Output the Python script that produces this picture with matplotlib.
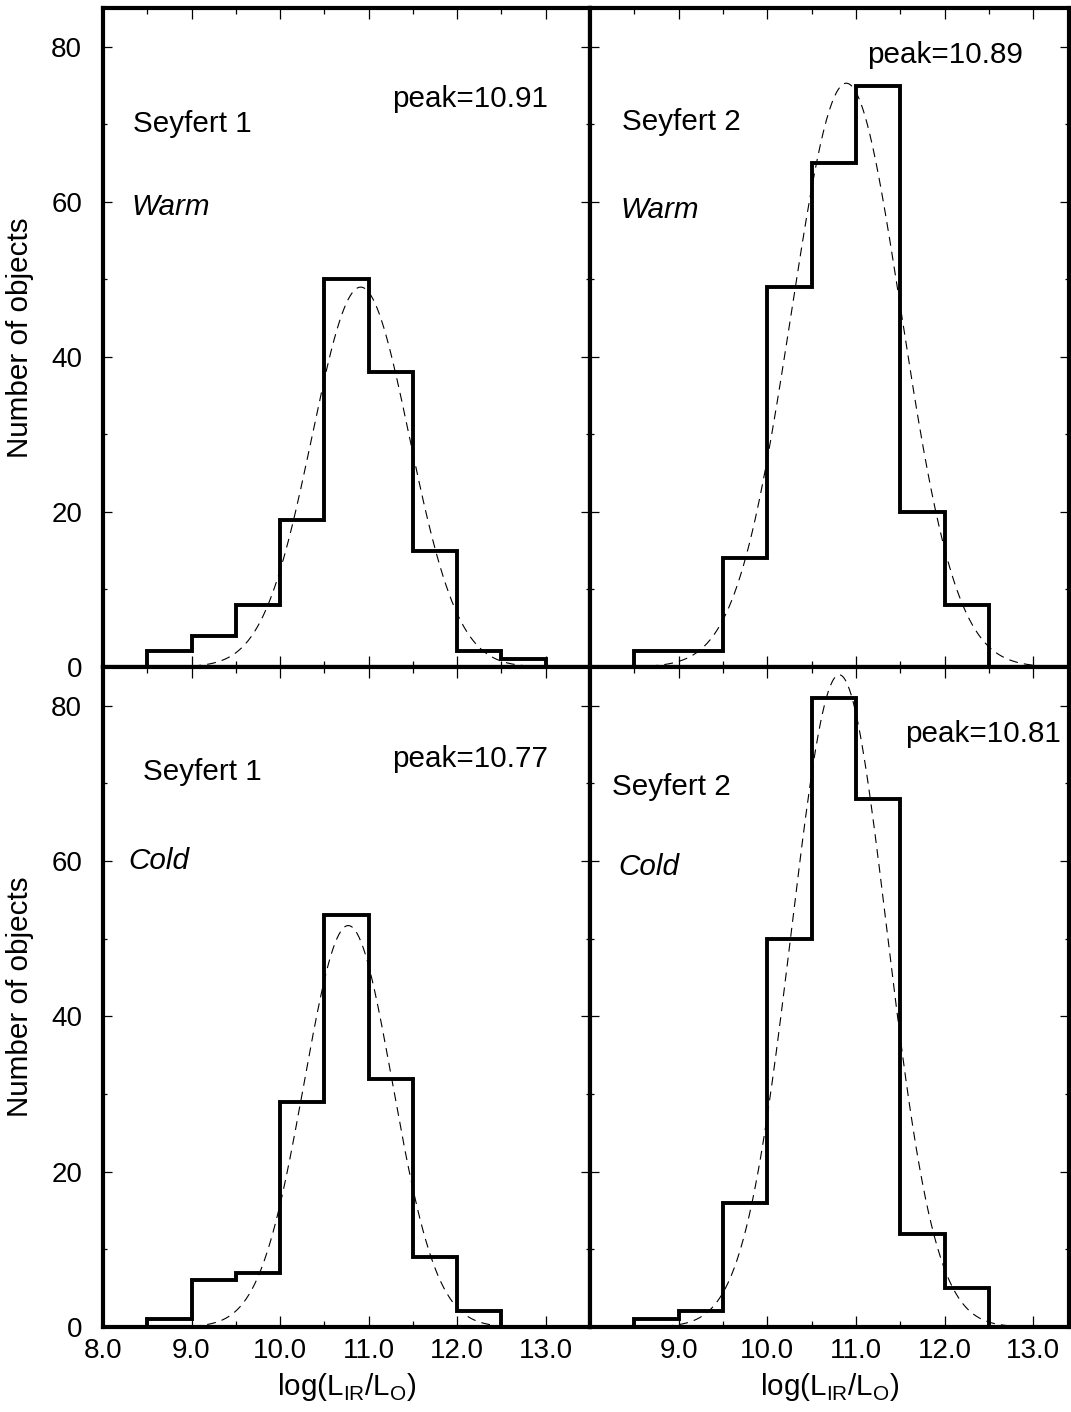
import numpy as np
import matplotlib
matplotlib.use("Agg")
import matplotlib.pyplot as plt
from matplotlib.ticker import MultipleLocator, FuncFormatter

plt.rcParams['font.family'] = ['Liberation Sans', 'DejaVu Sans']
plt.rcParams['mathtext.fontset'] = 'custom'
plt.rcParams['mathtext.rm'] = 'Liberation Sans'

# ---- data ----
bin_edges_sy1_warm = [8.5, 9.0, 9.5, 10.0, 10.5, 11.0, 11.5, 12.0, 12.5, 13.0]
counts_sy1_warm = [2, 4, 8, 19, 50, 38, 15, 2, 1]

bin_edges_sy2_warm = [8.5, 9.0, 9.5, 10.0, 10.5, 11.0, 11.5, 12.0, 12.5]
counts_sy2_warm = [2, 2, 14, 49, 65, 75, 20, 8]

bin_edges_sy1_cold = [8.5, 9.0, 9.5, 10.0, 10.5, 11.0, 11.5, 12.0, 12.5]
counts_sy1_cold = [1, 6, 7, 29, 53, 32, 9, 2]

bin_edges_sy2_cold = [8.5, 9.0, 9.5, 10.0, 10.5, 11.0, 11.5, 12.0, 12.5]
counts_sy2_cold = [1, 2, 16, 50, 81, 68, 12, 5]

# gaussian fit parameters (peak position, amplitude, width) per panel
gauss_peak = [10.91, 10.89, 10.77, 10.81]
gauss_amp = [49.0, 75.3, 51.7, 84.0]
gauss_sigma = [0.55, 0.62, 0.50, 0.54]

seyfert_labels = ["Seyfert 1", "Seyfert 2", "Seyfert 1", "Seyfert 2"]
temp_labels = ["Warm", "Warm", "Cold", "Cold"]
peak_labels = ["peak=10.91", "peak=10.89", "peak=10.77", "peak=10.81"]

ylabel_text = "Number of objects"
xlabel_text = r"log(L$_\mathregular{IR}$/L$_\mathregular{O}$)"

# ---- layout ----
W, H = 1071, 1412
fig = plt.figure(figsize=(W / 100, H / 100), dpi=100)
xl, xm, xr = 103 / W, 590 / W, 1069 / W
yt, ymid, yb = 1 - 8 / H, 1 - 667 / H, 1 - 1327 / H

ax_tl = fig.add_axes([xl, ymid, xm - xl, yt - ymid])
ax_tr = fig.add_axes([xm, ymid, xr - xm, yt - ymid])
ax_bl = fig.add_axes([xl, yb, xm - xl, ymid - yb])
ax_br = fig.add_axes([xm, yb, xr - xm, ymid - yb])
axes = [ax_tl, ax_tr, ax_bl, ax_br]

edges = [bin_edges_sy1_warm, bin_edges_sy2_warm, bin_edges_sy1_cold, bin_edges_sy2_cold]
counts = [counts_sy1_warm, counts_sy2_warm, counts_sy1_cold, counts_sy2_cold]

# annotation positions (data coords)
sey_pos = [(8.34, 70.0), (8.36, 70.3), (8.45, 71.5), (8.25, 69.6)]
temp_pos = [(8.32, 59.3), (8.34, 59.0), (8.29, 60.0), (8.32, 59.3)]
peak_pos = [(11.26, 73.3), (11.12, 78.9), (11.27, 73.2), (11.55, 76.4)]

FS_TEXT = 21.3
FS_TICK = 20

for i, ax in enumerate(axes):
    ax.stairs(counts[i], edges[i], baseline=0, color='black', lw=2.8)
    xs = np.linspace(8.5, 13.0, 400)
    ys = gauss_amp[i] * np.exp(-0.5 * ((xs - gauss_peak[i]) / gauss_sigma[i]) ** 2)
    ax.plot(xs, ys, color='black', lw=0.8, linestyle=(0, (8, 5.5)))

    ax.set_ylim(0, 85)
    if i in (0, 2):
        ax.set_xlim(8.0, 13.5)
    else:
        ax.set_xlim(8.0, 8.0 + 478 / 88.5)

    ax.xaxis.set_major_locator(MultipleLocator(1.0))
    ax.xaxis.set_minor_locator(MultipleLocator(0.5))
    ax.yaxis.set_major_locator(MultipleLocator(20))
    ax.yaxis.set_minor_locator(MultipleLocator(10))

    ax.tick_params(which='both', direction='in', top=True, right=True, width=0.9,
                   labelsize=FS_TICK)
    ax.tick_params(axis='x', which='major', length=7.7, pad=8)
    ax.tick_params(axis='x', which='minor', length=4.0)
    ax.tick_params(axis='y', which='major', length=6.5, pad=15)
    ax.tick_params(axis='y', which='minor', length=3.2)

    for sp in ax.spines.values():
        sp.set_linewidth(3.0)

    ax.text(*sey_pos[i], seyfert_labels[i], fontsize=FS_TEXT, ha='left', va='center')
    ax.text(*temp_pos[i], temp_labels[i], fontsize=FS_TEXT, ha='left', va='center',
            style='italic')
    ax.text(*peak_pos[i], peak_labels[i], fontsize=FS_TEXT, ha='left', va='center')

# tick labels
for ax in (ax_tl, ax_tr):
    ax.tick_params(axis='x', labelbottom=False)
for ax in (ax_tr, ax_br):
    ax.tick_params(axis='y', labelleft=False)

ax_bl.xaxis.set_major_formatter(FuncFormatter(lambda v, p: f"{v:.1f}"))
ax_br.xaxis.set_major_formatter(FuncFormatter(lambda v, p: "" if v < 8.5 else f"{v:.1f}"))
for ax in (ax_tl, ax_bl):
    ax.yaxis.set_major_formatter(FuncFormatter(lambda v, p: f"{v:.0f}"))

for ax in (ax_tl, ax_bl):
    ax.set_ylabel(ylabel_text, fontsize=FS_TEXT, labelpad=12)
for ax in (ax_bl, ax_br):
    ax.set_xlabel(xlabel_text, fontsize=FS_TEXT, labelpad=5)

fig.savefig("out.png", dpi=100)
